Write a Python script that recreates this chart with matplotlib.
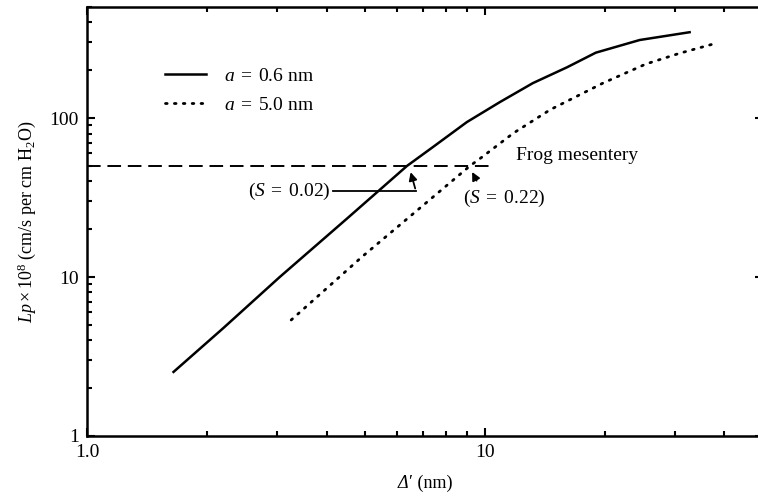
import numpy as np
import matplotlib
matplotlib.use("Agg")
from matplotlib import pyplot as plt
from matplotlib.ticker import NullFormatter, LogLocator
from matplotlib.offsetbox import TextArea, HPacker, AnnotationBbox

plt.rcParams['font.family'] = ['Liberation Serif', 'DejaVu Serif']
plt.rcParams['mathtext.fontset'] = 'custom'
plt.rcParams['mathtext.rm'] = 'Liberation Serif'
plt.rcParams['mathtext.it'] = 'Liberation Serif:italic'
plt.rcParams['mathtext.bf'] = 'Liberation Serif:bold'

# a = 0.6 nm curve
x_small = [1.65, 2.2, 3.05, 4.5, 6.37, 7.4, 9.01, 10.9, 13.2, 16.1, 19.0, 24.5, 32.7]
y_small = [2.53, 4.77, 10.0, 23.3, 50.0, 65.7, 94.4, 126.0, 166.0, 209.0, 258.0, 310.0, 347.0]

# a = 5.0 nm curve
x_large = [3.26, 4.91, 7.0, 9.17, 9.83, 11.8, 14.6, 19.8, 25.4, 30.9, 37.4]
y_large = [5.37, 13.4, 28.3, 50.0, 56.8, 80.5, 113.0, 166.0, 219.0, 256.0, 292.0]

# frog mesentery level
frog_lp = 50.0
frog_x = [1.0, 10.5]

xticks = [1, 10]
xticklabels = ['1.0', '10']
yticks = [1, 10, 100]
yticklabels = ['1', '10', '100']

fig = plt.figure(figsize=(7.58, 4.97), dpi=100)
ax = fig.add_axes([87/758, 1-436/497, (763-87)/758, (436-7)/497])

ax.plot(x_small, y_small, 'k-', lw=1.8, label=r'$a\;=\;$0.6 nm')
ax.plot(x_large, y_large, color='k', lw=2.0, linestyle=(0, (0.6, 2.6)),
        dash_capstyle='round', label=r'$a\;=\;$5.0 nm')
ax.plot(frog_x, [frog_lp, frog_lp], 'k', lw=1.4, linestyle=(0, (7, 3.5)))

ax.set_xscale('log')
ax.set_yscale('log')
ax.set_xlim(1, 50)
ax.set_ylim(1, 500)

ax.set_xticks(xticks, xticklabels)
ax.set_yticks(yticks, yticklabels)
ax.xaxis.set_minor_locator(LogLocator(base=10, subs=np.arange(2, 10)))
ax.yaxis.set_minor_locator(LogLocator(base=10, subs=np.arange(2, 10)))
ax.xaxis.set_minor_formatter(NullFormatter())
ax.yaxis.set_minor_formatter(NullFormatter())
ax.tick_params(which='both', direction='in', top=True, right=True, width=1.5)
ax.tick_params(which='major', length=6, labelsize=14, pad=6)
ax.tick_params(which='minor', length=3.5)
for s in ax.spines.values():
    s.set_linewidth(1.8)
ax.spines['right'].set_visible(False)

# x label: italic delta followed by upright prime and unit
xlab = HPacker(children=[TextArea('\u0394', textprops=dict(fontsize=13, style='italic')),
                         TextArea('\u2032 (nm)', textprops=dict(fontsize=13))],
               pad=0, sep=0, align='baseline')
ax.add_artist(AnnotationBbox(xlab, (0.5, -0.11), xycoords='axes fraction',
                             frameon=False, box_alignment=(0.5, 0.5),
                             annotation_clip=False))
ax.set_ylabel(r'$Lp\times10^8$ (cm/s per cm H$_2$O)', fontsize=13, labelpad=8)

ax.text(12.0, 58.5, 'Frog mesentery', fontsize=14, va='center', ha='left')

# S = 0.02 annotation
ax.text(4.1, 34.7, r'($S\;=\;$0.02)', fontsize=14, va='center', ha='right')
ax.plot([4.15, 6.71], [34.7, 34.7], 'k-', lw=1.3)
ax.annotate('', xy=(6.48, 47.5), xytext=(6.71, 34.7),
            arrowprops=dict(arrowstyle='-|>', color='k', lw=1.3, mutation_scale=12))

# S = 0.22 annotation
ax.text(8.81, 31.4, r'($S\;=\;$0.22)', fontsize=14, va='center', ha='left')
ax.annotate('', xy=(9.22, 47.5), xytext=(9.6, 39.0),
            arrowprops=dict(arrowstyle='-|>', color='k', lw=1.3, mutation_scale=12))

ax.legend(loc='upper left', bbox_to_anchor=(0.09, 0.90), frameon=False,
          fontsize=14, handlelength=2.1, handletextpad=0.9, labelspacing=0.6)

fig.savefig('out.png', dpi=100)
